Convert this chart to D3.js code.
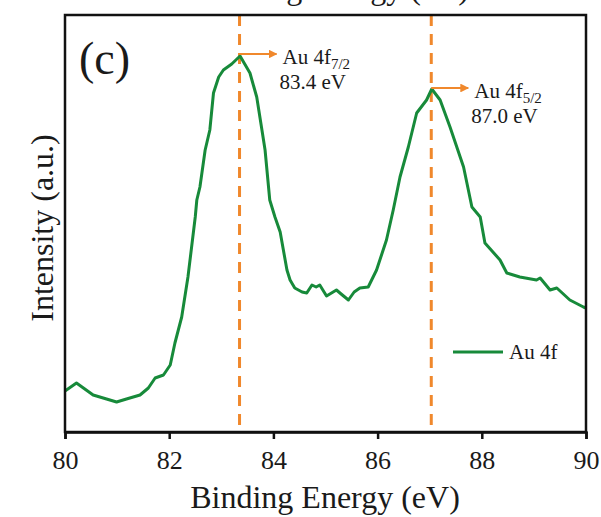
<!DOCTYPE html>
<html>
<head>
<meta charset="utf-8">
<script src="https://cdn.jsdelivr.net/npm/d3@7"></script>
<style>
  html, body { margin: 0; padding: 0; background: #fff; }
  svg { display: block; }
  text { font-family: "Liberation Serif", "DejaVu Serif", serif; fill: #1a1a1a; }
</style>
</head>
<body>
<svg id="chart" width="601" height="517"></svg>
<script>
// Binding energy (eV) and intensity (a.u.)
const energy = [80.00, 80.22, 80.54, 80.99, 81.18, 81.44, 81.60, 81.73, 81.89, 82.02, 82.11, 82.24, 82.36,
  82.50, 82.53, 82.59, 82.69, 82.78, 82.85, 82.95, 83.04, 83.20, 83.36, 83.55, 83.68, 83.78, 83.84, 83.93,
  84.03, 84.13, 84.26, 84.32, 84.41, 84.55, 84.64, 84.74, 84.82, 84.89, 85.02, 85.21, 85.30, 85.44, 85.55,
  85.66, 85.82, 85.98, 86.17, 86.30, 86.43, 86.59, 86.75, 86.94, 87.04, 87.20, 87.39, 87.65, 87.81, 87.97,
  88.06, 88.35, 88.48, 88.73, 89.05, 89.12, 89.31, 89.44, 89.69, 89.95, 90.00];
const intensity = [41, 49, 37, 30, 33, 37, 44, 54, 57, 67, 89, 115, 155,
  215, 232, 245, 282, 302, 339, 355, 362, 368, 376, 359, 335, 302, 282, 232,
  215, 200, 162, 152, 144, 140, 139, 147, 145, 147, 136, 142, 138, 132, 140,
  144, 145, 162, 192, 222, 255, 285, 319, 332, 343, 332, 305, 265, 225, 215,
  189, 172, 159, 155, 152, 154, 142, 144, 132, 125, 124];
const xTicks = [80, 82, 84, 86, 88, 90];
const peakEnergy = [83.35, 87.03];
const peakName = ["7/2", "5/2"];
const peakLabel = ["83.4 eV", "87.0 eV"];
const seriesName = "Au 4f";

const svg = d3.select("#chart");
const m = { left: 65, right: 586, top: 15, bottom: 432 };
const x = d3.scaleLinear().domain([80, 90]).range([m.left, m.right]);
const y = d3.scaleLinear().domain([0, 417]).range([m.bottom, m.top]);

const green = "#178a3a";
const orange = "#f0882c";

// cut-off title of the panel above (only its lower edge shows, as in the original)
svg.append("text").attr("x", 334).attr("y", -1).attr("text-anchor", "middle")
  .style("font-size", "32px").text("Binding Energy (eV)");

// dashed peak lines
svg.selectAll(".peak").data(peakEnergy).enter().append("line")
  .attr("x1", d => x(d)).attr("x2", d => x(d))
  .attr("y1", m.top).attr("y2", m.bottom)
  .attr("stroke", orange).attr("stroke-width", 3).attr("stroke-dasharray", "11,8");

// curve
const line = d3.line().x((d, i) => x(energy[i])).y(d => y(d)).curve(d3.curveLinear);
svg.append("path").datum(intensity).attr("d", line)
  .attr("fill", "none").attr("stroke", green).attr("stroke-width", 3).attr("stroke-linejoin", "round");

// frame
svg.append("rect").attr("x", m.left).attr("y", m.top)
  .attr("width", m.right - m.left).attr("height", m.bottom - m.top)
  .attr("fill", "none").attr("stroke", "#111").attr("stroke-width", 2.5);

// x axis
const xAxis = d3.axisBottom(x).tickValues(xTicks).tickSize(7).tickPadding(12).tickFormat(d3.format("d"));
const gx = svg.append("g").attr("transform", `translate(0,${m.bottom})`).call(xAxis);
gx.select(".domain").attr("stroke", "#111").attr("stroke-width", 2.5);
gx.selectAll(".tick line").attr("stroke", "#111").attr("stroke-width", 2.5);
gx.selectAll(".tick text").style("font-size", "26px").style("font-family", "'Liberation Serif', serif").attr("fill", "#1a1a1a");

// axis titles
svg.append("text").attr("x", 325).attr("y", 508).attr("text-anchor", "middle")
  .style("font-size", "32px").text("Binding Energy (eV)");
svg.append("text").attr("transform", "translate(53,228) rotate(-90)").attr("text-anchor", "middle")
  .style("font-size", "32px").text("Intensity (a.u.)");

// panel label
svg.append("text").attr("x", 79).attr("y", 74).style("font-size", "46px").text("(c)");

// arrow marker
svg.append("defs").append("marker").attr("id", "arr").attr("viewBox", "0 0 10 10")
  .attr("refX", 9).attr("refY", 5).attr("markerWidth", 4).attr("markerHeight", 4)
  .attr("markerUnits", "strokeWidth").attr("orient", "auto")
  .append("path").attr("d", "M0,0 L10,5 L0,10 z").attr("fill", orange);

const peakY = [54, 88];
peakEnergy.forEach((e, i) => {
  const px = x(e);
  svg.append("line").attr("x1", px).attr("x2", px + 37).attr("y1", peakY[i]).attr("y2", peakY[i])
    .attr("stroke", orange).attr("stroke-width", 2.2).attr("marker-end", "url(#arr)");
  const t = svg.append("text").attr("x", px + 43).attr("y", peakY[i] + 10).style("font-size", "21px");
  t.append("tspan").text("Au 4f");
  t.append("tspan").attr("dy", 5).style("font-size", "15px").text(peakName[i]);
  svg.append("text").attr("x", px + 40).attr("y", peakY[i] + 35).style("font-size", "21px").text(peakLabel[i]);
});

// legend
svg.append("line").attr("x1", 453).attr("x2", 503).attr("y1", 352).attr("y2", 352)
  .attr("stroke", green).attr("stroke-width", 3);
svg.append("text").attr("x", 509).attr("y", 359).style("font-size", "21px").text(seriesName);
</script>
</body>
</html>
